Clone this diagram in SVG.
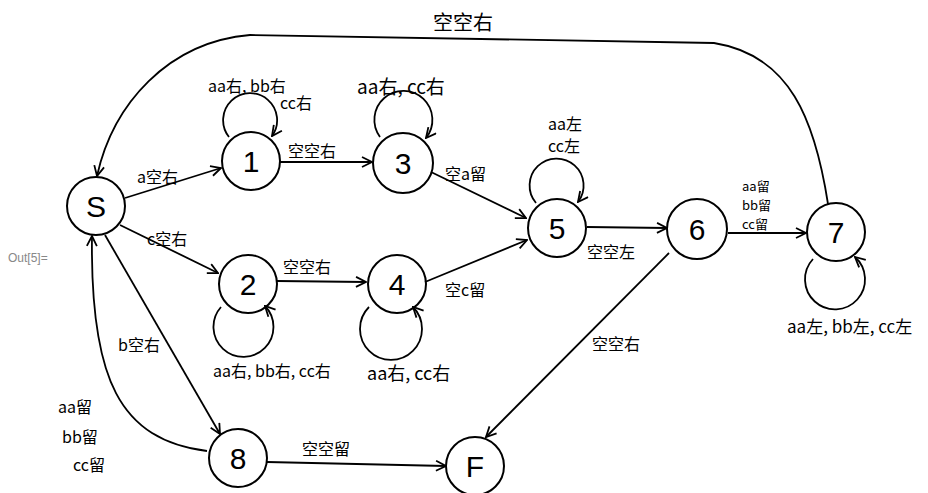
<svg xmlns="http://www.w3.org/2000/svg" width="928" height="493" viewBox="0 0 928 493">
<style>
.c{fill:none;stroke:#000;stroke-width:2}
.e{fill:none;stroke:#000;stroke-width:1.8;marker-end:url(#arr)}
.t{font-family:"Noto Sans CJK SC","Noto Sans",sans-serif;font-size:16px;fill:#000}
.n{font-family:"Liberation Sans",sans-serif;font-size:30px;fill:#000;text-anchor:middle}
.o{font-family:"Liberation Sans",sans-serif;font-size:12px;fill:#888}
</style>
<defs>
<marker id="arr" viewBox="0 0 12 12" refX="11" refY="6" markerWidth="12" markerHeight="12" markerUnits="userSpaceOnUse" orient="auto">
<path d="M1,1 L11,6 L1,11" fill="none" stroke="#000" stroke-width="1.8"/>
</marker>
</defs>
<rect width="928" height="493" fill="#fff"/>
<text class="o" x="8" y="262">Out[5]=</text>

<g id="connectors">
<path class="e" d="M828,204 C815,120 790,55 714,43 L250,35 C168,42 113,104 97,176"/>
<path class="e" d="M125,198 L221,168"/>
<path class="e" d="M280,162 L372,162"/>
<path class="e" d="M120,225 L218,273"/>
<path class="e" d="M277,281 L366,282"/>
<path class="e" d="M105,235 L220,434"/>
<path class="e" d="M207,451 C120,440 90,380 92,236"/>
<path class="e" d="M431,172 L526,218"/>
<path class="e" d="M425,282 L527,240"/>
<path class="e" d="M587,227 L667,228"/>
<path class="e" d="M728,233 L806,233"/>
<path class="e" d="M669,253 L486,437"/>
<path class="e" d="M267,462 L446,466"/>
<path class="e" d="M229,137 A27,27 0 1 1 272,136"/>
<path class="e" d="M380,137 A29,29 0 1 1 426,138"/>
<path class="e" d="M536,203 A27,27 0 1 1 578,202"/>
<path class="e" d="M221,307 A30,30 0 1 0 265,306"/>
<path class="e" d="M369,307 A31,31 0 1 0 413,307"/>
<path class="e" d="M813,259 A30,30 0 1 0 855,257"/>
</g>

<g id="labels">
<text class="t" x="433" y="30" style="font-size:20px">空空右</text>
<text class="t" x="208" y="92">aa右, bb右</text>
<text class="t" x="280" y="109">cc右</text>
<text class="t" x="357" y="94" style="font-size:19px">aa右, cc右</text>
<text class="t" x="288" y="157">空空右</text>
<text class="t" x="137" y="183">a空右</text>
<text class="t" x="147" y="245">c空右</text>
<text class="t" x="445" y="180">空a留</text>
<text class="t" x="548" y="130">aa左</text>
<text class="t" x="548" y="152">cc左</text>
<text class="t" x="587" y="258">空空左</text>
<text class="t" x="742" y="191" style="font-size:13px">aa留</text>
<text class="t" x="742" y="210" style="font-size:13px">bb留</text>
<text class="t" x="742" y="229" style="font-size:13px">cc留</text>
<text class="t" x="787" y="333" style="font-size:17px">aa左, bb左, cc左</text>
<text class="t" x="283" y="273">空空右</text>
<text class="t" x="445" y="296">空c留</text>
<text class="t" x="213" y="377">aa右, bb右, cc右</text>
<text class="t" x="367" y="380" style="font-size:18px">aa右, cc右</text>
<text class="t" x="118" y="351">b空右</text>
<text class="t" x="58" y="413">aa留</text>
<text class="t" x="62" y="443">bb留</text>
<text class="t" x="73" y="471">cc留</text>
<text class="t" x="302" y="455">空空留</text>
<text class="t" x="592" y="350">空空右</text>
</g>

<g id="node-S"><circle class="c" cx="96" cy="206" r="29"/><text class="n" x="96" y="217">S</text></g>
<g id="node-1"><circle class="c" cx="251" cy="161" r="29"/><text class="n" x="251" y="172">1</text></g>
<g id="node-3"><circle class="c" cx="403" cy="163" r="30"/><text class="n" x="403" y="174">3</text></g>
<g id="node-5"><circle class="c" cx="557" cy="228" r="29"/><text class="n" x="557" y="239">5</text></g>
<g id="node-6"><circle class="c" cx="697" cy="229" r="30"/><text class="n" x="697" y="240">6</text></g>
<g id="node-7"><circle class="c" cx="836" cy="232" r="29"/><text class="n" x="836" y="243">7</text></g>
<g id="node-2"><circle class="c" cx="248" cy="284" r="29"/><text class="n" x="248" y="295">2</text></g>
<g id="node-4"><circle class="c" cx="397" cy="284" r="29"/><text class="n" x="397" y="295">4</text></g>
<g id="node-8"><circle class="c" cx="238" cy="458" r="29"/><text class="n" x="238" y="469">8</text></g>
<g id="node-F"><circle class="c" cx="475" cy="466" r="29"/><text class="n" x="475" y="477">F</text></g>
</svg>
